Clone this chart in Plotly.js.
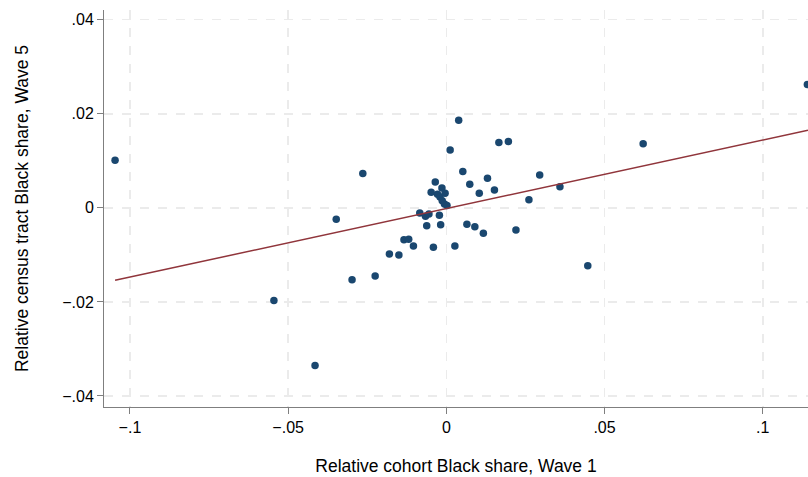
<!DOCTYPE html>
<html>
<head>
<meta charset="utf-8">
<script src="https://cdn.plot.ly/plotly-3.0.1.min.js"></script>
<style>html,body{margin:0;padding:0;background:#fff;}#chart{width:808px;height:477px;}</style>
</head>
<body>
<div id="chart"></div>
<script>
// Relative cohort Black share, Wave 1
const cohortShareW1 = [
  -0.1047, -0.0545, -0.0415, -0.0348, -0.0264, -0.0298, -0.0225, -0.0180, -0.0150,
  -0.0134, -0.0119, -0.0104, -0.0084, -0.0066, -0.0055, -0.0062, -0.0041, -0.0048,
  -0.0035, -0.0028, -0.0022, -0.0020, -0.0018, -0.0014, -0.0013, -0.0006, -0.0004,
  0.0002, 0.0012, 0.0027, 0.0039, 0.0052, 0.0065, 0.0074, 0.0090, 0.0104, 0.0117,
  0.0130, 0.0152, 0.0166, 0.0196, 0.0220, 0.0261, 0.0295, 0.0359, 0.0447, 0.0622, 0.1141
];
// Relative census tract Black share, Wave 5
const tractShareW5 = [
  0.0101, -0.0197, -0.0335, -0.0024, 0.0073, -0.0153, -0.0145, -0.0098, -0.0100,
  -0.0068, -0.0067, -0.0081, -0.0011, -0.0018, -0.0013, -0.0038, -0.0084, 0.0033,
  0.0055, 0.0029, -0.0016, 0.0023, -0.0036, 0.0042, 0.0015, 0.0008, 0.0031,
  0.0005, 0.0123, -0.0081, 0.0186, 0.0077, -0.0035, 0.0050, -0.0040, 0.0031, -0.0054,
  0.0063, 0.0038, 0.0139, 0.0141, -0.0047, 0.0017, 0.0070, 0.0045, -0.0123, 0.0136, 0.0262
];
// Fitted values line endpoints
const fitX = [-0.1047, 0.1143];
const fitY = [-0.0154, 0.0165];

const xTickVals = [-0.1, -0.05, 0, 0.05, 0.1];
const xTickText = ["\u2212.1", "\u2212.05", "0", ".05", ".1"];
const yTickVals = [-0.04, -0.02, 0, 0.02, 0.04];
const yTickText = ["\u2212.04", "\u2212.02", "0", ".02", ".04"];

const font = "Liberation Sans, Arial, sans-serif";

const traces = [
  {
    x: cohortShareW1, y: tractShareW5, type: "scatter", mode: "markers",
    marker: {color: "#1a476f", size: 7.5, line: {width: 0}},
    hoverinfo: "skip", showlegend: false
  },
  {
    x: fitX, y: fitY, type: "scatter", mode: "lines",
    line: {color: "#90353b", width: 1.5},
    hoverinfo: "skip", showlegend: false
  }
];

const axisCommon = {
  showline: true, linecolor: "#7f7f7f", linewidth: 1,
  ticks: "outside", ticklen: 6, tickcolor: "#7f7f7f", tickwidth: 1,
  showgrid: true, gridcolor: "#ebebeb", gridwidth: 1.5, griddash: "dash",
  zeroline: false, tickfont: {family: font, size: 16, color: "#000"}
};

const layout = {
  width: 808, height: 477,
  margin: {l: 104, r: 0, t: 10, b: 70},
  paper_bgcolor: "#fff", plot_bgcolor: "#fff",
  font: {family: font, color: "#000"},
  xaxis: Object.assign({}, axisCommon, {
    range: [-0.1082, 0.1143], tickmode: "array", tickvals: xTickVals, ticktext: xTickText,
    title: {text: "Relative cohort Black share, Wave 1", font: {family: font, size: 17.5}, standoff: 24}
  }),
  yaxis: Object.assign({}, axisCommon, {
    range: [-0.04234, 0.04206], tickmode: "array", tickvals: yTickVals, ticktext: yTickText,
    title: {text: "Relative census tract Black share, Wave 5", font: {family: font, size: 17.5}, standoff: 29}
  })
};

Plotly.newPlot("chart", traces, layout, {staticPlot: true, displayModeBar: false});
</script>
</body>
</html>
